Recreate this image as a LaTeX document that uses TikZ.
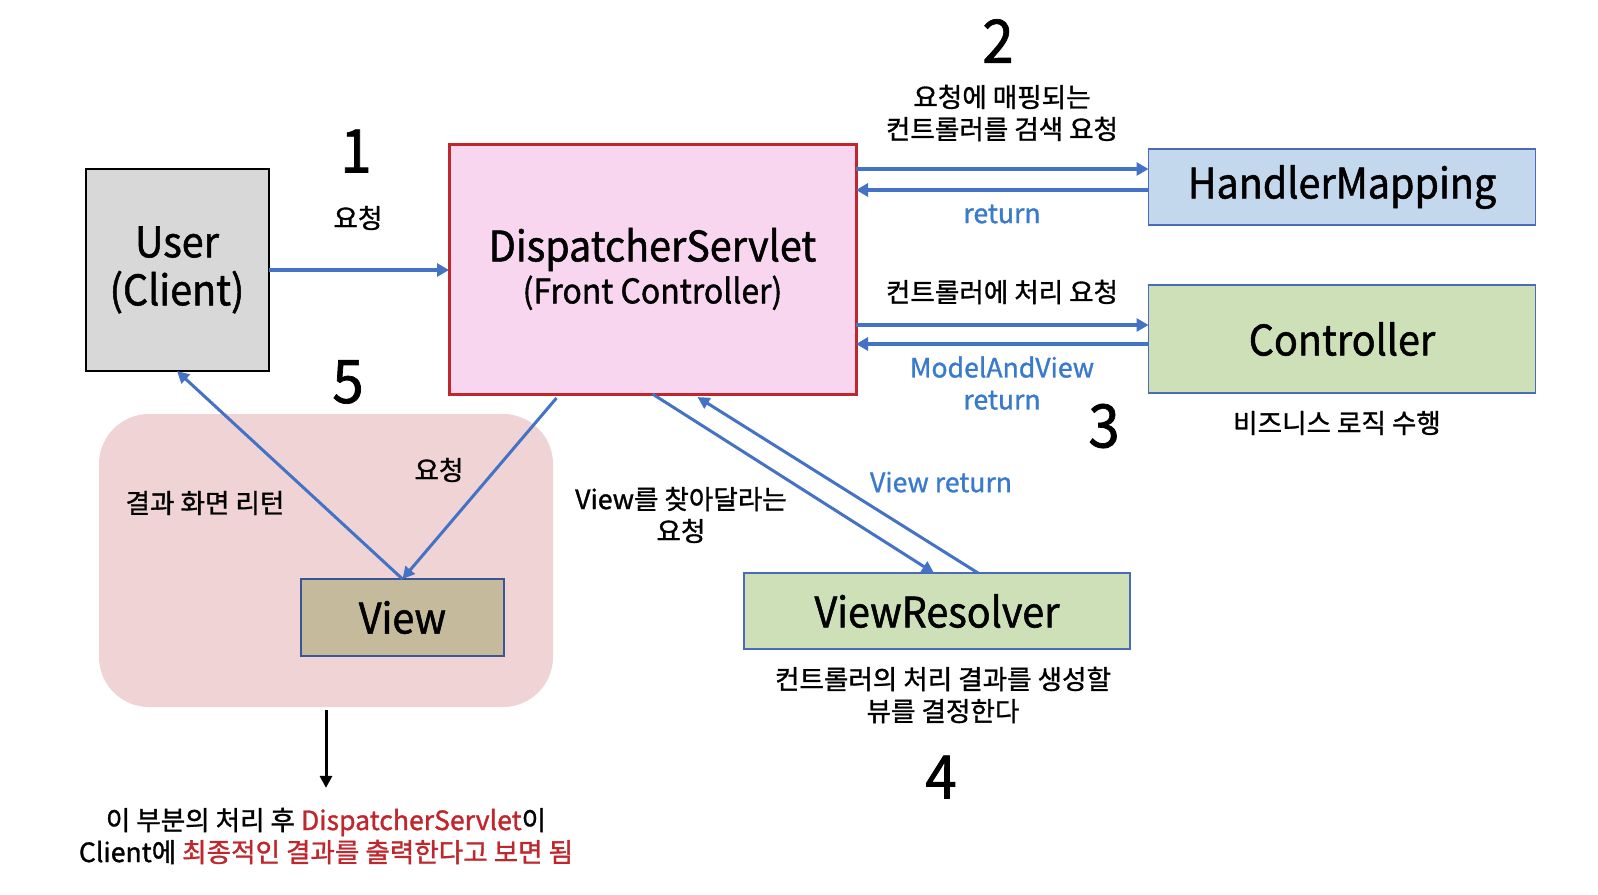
\documentclass[tikz,border=0pt]{standalone}
\usepackage{fontspec}
\setmainfont{Noto Sans CJK KR}[FakeBold=1.2]
\newfontfamily\boxfont{Noto Sans CJK KR}[FakeStretch=0.94, FakeBold=1.2]
\usetikzlibrary{positioning, calc, arrows.meta}
\definecolor{flowblue}{RGB}{68,114,196}
\definecolor{textblue}{RGB}{58,122,204}
\definecolor{dsred}{RGB}{192,39,45}
\definecolor{dsfill}{RGB}{248,214,240}
\definecolor{userfill}{RGB}{216,216,216}
\definecolor{hmfill}{RGB}{195,215,237}
\definecolor{greenfill}{RGB}{205,224,184}
\definecolor{viewfill}{RGB}{197,186,155}
\definecolor{zonefill}{RGB}{240,211,213}
\definecolor{boxblue}{RGB}{74,108,184}

\begin{document}
\begin{tikzpicture}[x=0.5pt, y=-0.5pt,
every node/.style = {inner sep=0pt, outer sep=0pt},
        box/.style = {rectangle, draw=boxblue, line width=0.75pt, align=center,
                      font=\boxfont\fontsize{21}{24}\selectfont},
        lbl/.style = {align=center, font=\fontsize{13.3}{16}\selectfont},
       blbl/.style = {lbl, text=textblue},
        num/.style = {font=\boxfont\fontsize{30}{32}\selectfont},
       flow/.style = {draw=flowblue, line width=2pt, -{Triangle[length=6pt,width=6.5pt]}},
      vflow/.style = {draw=flowblue, line width=1.5pt, -{Triangle[length=6pt,width=6pt]}}
                    ]
\useasboundingbox (0,0) rectangle (1598,894);
\node (zone) [fill=zonefill, rounded corners=25pt, minimum width=227pt, minimum height=146.5pt] at (326,560.5) {};

\node (user) [box, draw=black, line width=1pt, fill=userfill, minimum width=91.5pt, minimum height=101pt] at (177,270) {User\\(Client)};
\node (ds)   [box, draw=dsred, line width=1.5pt, fill=dsfill, minimum width=203.5pt, minimum height=125pt] at (652.5,269)
             {DispatcherServlet\\[-3pt]{\fontsize{17}{20}\selectfont(Front Controller)}};
\node (hm)   [box, fill=hmfill, minimum width=193.5pt, minimum height=38pt] at (1342,187) {HandlerMapping};
\node (ctrl) [box, fill=greenfill, minimum width=193.5pt, minimum height=54pt] at (1342,339) {Controller};
\node (vr)   [box, fill=greenfill, minimum width=193pt, minimum height=38pt] at (937,611) {ViewResolver};
\node (view) [box, draw=boxblue!80!black, fill=viewfill, minimum width=101.5pt, minimum height=38.5pt] at (402.5,617.5) {View};

\node (n1) [num] at (356,151) {1};
\node (n2) [num] at (998,41)  {2};
\node (n3) [num] at (1104,426) {3};
\node (n4) [num] at (941,777) {4};
\node (n5) [num] at (348,382) {5};

\node (req1)  [lbl] at (358,218) {요청};
\node (hmreq) [lbl] at (1002,113) {요청에 매핑되는\\컨트롤러를 검색 요청};
\node (hmret) [blbl] at (1002,214) {return};
\node (ctreq) [lbl] at (1002,292) {컨트롤러에 처리 요청};
\node (ctret) [blbl] at (1002,383) {ModelAndView\\return};
\node (biz)   [lbl] at (1337,423) {비즈니스 로직 수행};
\node (vrreq) [lbl] at (681,515) {View를 찾아달라는\\요청};
\node (vrret) [blbl] at (941,482) {View return};
\node (vrdesc)[lbl] at (943,695) {컨트롤러의 처리 결과를 생성할\\뷰를 결정한다};
\node (back)  [lbl] at (205,503) {결과 화면 리턴};
\node (req5)  [lbl] at (439,470) {요청};
\node (note)  [lbl] at (326,836) {이 부분의 처리 후 \textcolor{dsred}{DispatcherServlet}이\\
              Client에 \textcolor{dsred}{최종적인 결과를 출력한다고 보면 됨}};

\draw[flow] (user.east) -- (user.east -| ds.west);
\draw[flow] (ds.east |- 0,169) -- (hm.west |- 0,169);
\draw[flow] (hm.west |- 0,190) -- (ds.east |- 0,190);
\draw[flow] (ds.east |- 0,325) -- (ctrl.west |- 0,325);
\draw[flow] (ctrl.west |- 0,344) -- (ds.east |- 0,344);
\draw[vflow] (ds.south) -- ($(vr.north)+(-3,0)$);
\draw[vflow] ($(vr.north)+(41,0)$) -- ($(ds.south)+(45,3)$);
\draw[vflow] ($(ds.south)+(-96,4)$) -- (view.north);
\draw[vflow] (view.north) -- (user.south);
\draw[line width=1.5pt, -{Triangle[length=6pt,width=6pt]}] ($(zone.south)+(0,3)$) -- ($(note.north)+(0,-20)$);
\end{tikzpicture}
\end{document}
